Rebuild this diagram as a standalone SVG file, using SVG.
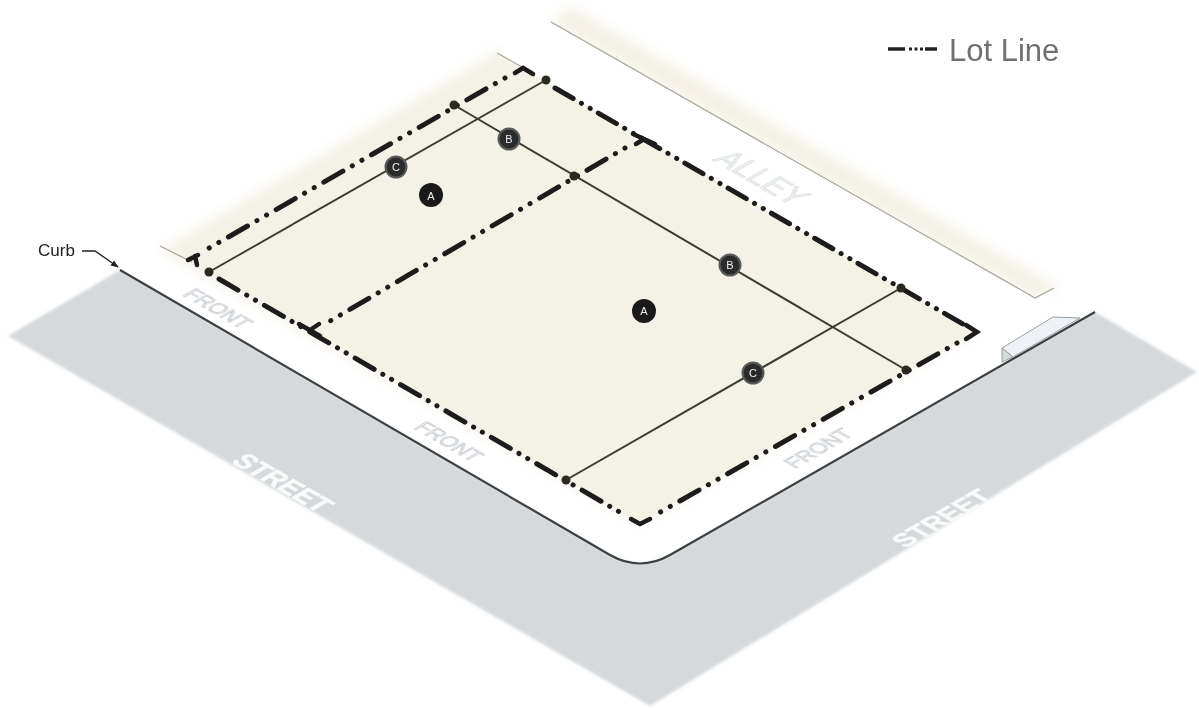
<svg xmlns="http://www.w3.org/2000/svg" width="1199" height="708" viewBox="0 0 1199 708">
<defs>
<filter id="soft" x="-10%" y="-10%" width="120%" height="120%"><feGaussianBlur stdDeviation="6"/></filter>
<filter id="soft2" x="-5%" y="-5%" width="110%" height="110%"><feGaussianBlur stdDeviation="1.5"/></filter>
<filter id="txt" x="-10%" y="-10%" width="120%" height="120%"><feGaussianBlur stdDeviation="0.4"/></filter>
<marker id="arr" viewBox="0 0 10 10" refX="9" refY="5" markerWidth="6" markerHeight="6" orient="auto"><path d="M0 1L10 5L0 9Z" fill="#222"/></marker>
</defs>
<style>
.lot{fill:none;stroke:#1c1c1c;stroke-width:5;stroke-dasharray:21 9.5 .1 10 .1 9.3;stroke-linecap:round}
.lot2{fill:none;stroke:#1c1c1c;stroke-width:5;stroke-dasharray:22 10 .1 10 .1 10.3;stroke-linecap:round}
.lot3{fill:none;stroke:#1c1c1c;stroke-width:5;stroke-dasharray:22 11 .1 11 .1 10.8;stroke-dashoffset:33;stroke-linecap:round}
.corner{fill:none;stroke:#1c1c1c;stroke-width:4.5;stroke-linecap:round}
.thin{fill:none;stroke:#3a3a30;stroke-width:2}
.edge{fill:none;stroke:#a5a598;stroke-width:1.2}
.dot{fill:#2a2a22}
.bub{fill:#2b2b2b;stroke:#5a5c5c;stroke-width:2}
.bubA{fill:#1a1a1a}
.bt{font-family:"Liberation Sans",Arial,sans-serif;font-size:11px;fill:#eee;text-anchor:middle}
.front{font-family:"Liberation Sans",Arial,sans-serif;font-size:20px;fill:#eceef0;stroke:#b6bcc0;stroke-width:.6}
.alley{font-family:"Liberation Sans",Arial,sans-serif;font-size:30px;fill:#eef0f2;stroke:#cfd5d9;stroke-width:.6}
.street{font-family:"Liberation Sans",Arial,sans-serif;font-size:26px;font-weight:bold;fill:#f9fafa;stroke:#f9fafa;stroke-width:.5}
</style>
<rect width="1199" height="708" fill="#fff"/>
<g id="street">
<path d="M8 336L120 270L610 555Q640 572 670 555L1095 312L1197 372L650 706Z" fill="#d5d9db" filter="url(#soft2)"/>
</g>
<g id="ground">
<path d="M160 250L500 50L530 70L976 332L640 523Z" fill="#f4f1e7" filter="url(#soft)"/>
<path d="M192 262L522 67L976 332L640 523Z" fill="#f4f1e7"/>
<path d="M551 22L570 6L1060 288L1035 298Z" fill="#f4f1e7" filter="url(#soft)"/>
<path d="M497 53L976 332L1000 345L1050 305L1054 288L1035 298L551 22L515 30Z" fill="#fff"/>
<path d="M551 22L1035 298L1054 288" class="edge"/>
<path d="M160 246L192 262" class="edge"/>
<path d="M497 53L522 67" class="edge"/>
</g>
<g id="curb">
<path d="M1002 348L1053 317L1080 318L1013 357Z" fill="#eef1f5" stroke="#9aa0a0" stroke-width="1"/>
<path d="M1002 348L1002 362L1013 357Z" fill="#d5d9db" stroke="#9aa0a0" stroke-width="1"/>
<path d="M120 270L610 555Q640 572 670 555L1095 312" fill="none" stroke="#3c3f40" stroke-width="2.2"/>
</g>
<g id="street-labels" filter="url(#txt)">
<text class="street" transform="matrix(.866 .5 -.95 .55 230 462)">STREET</text>
<text class="street" transform="matrix(.866 -.5 .95 .55 906 549)">STREET</text>
<text class="front" transform="matrix(.866 .5 -.95 .55 182 295)">FRONT</text>
<text class="front" transform="matrix(.866 .5 -.95 .55 413 428)">FRONT</text>
<text class="front" transform="matrix(.866 -.5 .95 .55 795 469)">FRONT</text>
<text class="alley" transform="matrix(.866 .5 -.95 .55 712 160)">ALLEY</text>
</g>
<g id="connectors">
<path class="thin" d="M209 272L546 80"/>
<path class="thin" d="M566 480L901 288"/>
<path class="thin" d="M454 105L906 370"/>
<path class="lot3" d="M505 78L204 251"/>
<path class="lot" d="M555 88L968 327"/>
<path class="lot3" d="M957 343L657 514"/>
<path class="lot2" d="M219 279L623 514"/>
<path class="lot3" d="M625 148L325 324"/>
<path class="corner" d="M515 73L523 68L533 74"/>
<path class="corner" d="M188 260L198 255M195 256L197 265"/>
<path class="corner" d="M966 325L977 332L966 339"/>
<path class="corner" d="M631 519L640 524L650 519"/>
<path class="corner" d="M633 134L655 144M644 139L636 144"/>
<path class="corner" d="M299 324L320 336M310 330L319 324"/>
<path d="M82 251H95L118 267" fill="none" stroke="#222" stroke-width="1.3" marker-end="url(#arr)"/>
<path d="M888 49L905 49" stroke="#222" stroke-width="3.5"/>
<path d="M909 49H923" stroke="#222" stroke-width="3" stroke-dasharray="3 2.5"/>
<path d="M925 49L937 49" stroke="#222" stroke-width="3.5"/>
</g>
<g id="points">
<circle class="dot" cx="209" cy="272" r="4.5"/>
<circle class="dot" cx="546" cy="80" r="4.5"/>
<circle class="dot" cx="454" cy="105" r="4.5"/>
<circle class="dot" cx="574" cy="176" r="4.5"/>
<circle class="dot" cx="901" cy="288" r="4.5"/>
<circle class="dot" cx="906" cy="370" r="4.5"/>
<circle class="dot" cx="566" cy="480" r="4.5"/>
</g>
<g id="node-c1"><circle class="bub" cx="396" cy="167" r="10.5"/><text class="bt" x="396" y="171">C</text></g>
<g id="node-b1"><circle class="bub" cx="509" cy="139" r="10.5"/><text class="bt" x="509" y="143">B</text></g>
<g id="node-a1"><circle class="bubA" cx="431" cy="195" r="12"/><text class="bt" x="431" y="200">A</text></g>
<g id="node-b2"><circle class="bub" cx="730" cy="265" r="10.5"/><text class="bt" x="730" y="269">B</text></g>
<g id="node-a2"><circle class="bubA" cx="644" cy="311" r="12"/><text class="bt" x="644" y="315">A</text></g>
<g id="node-c2"><circle class="bub" cx="753" cy="373" r="10.5"/><text class="bt" x="753" y="377">C</text></g>
<g id="curb-label"><text x="38" y="256" font-family="'Liberation Sans',Arial,sans-serif" font-size="17" fill="#222">Curb</text></g>
<g id="legend"><text x="949" y="61" font-family="'Liberation Sans',Arial,sans-serif" font-size="31" fill="#707070">Lot Line</text></g>
</svg>
